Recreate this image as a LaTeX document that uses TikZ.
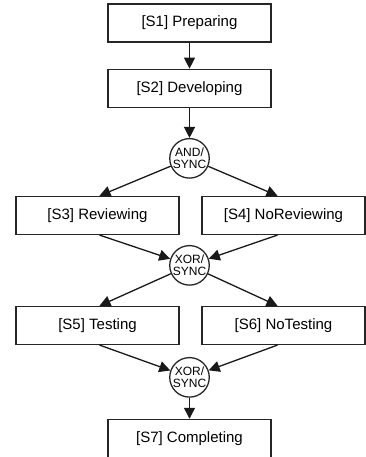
\documentclass[tikz,border=0pt]{standalone}
\usepackage{fontspec}
\setmainfont{Liberation Sans}
\usetikzlibrary{arrows.meta, positioning}

\begin{document}
\begin{tikzpicture}[
  x=1pt, y=1pt,
  state/.style={rectangle, draw=black!85, line width=1.3pt, minimum height=38pt,
    minimum width=163pt, align=center, font=\fontsize{15}{17}\selectfont},
  sync/.style={circle, draw=black!85, line width=1.3pt, minimum size=37pt,
    inner sep=0pt, align=center, font=\fontsize{12}{12.5}\selectfont},
  flow/.style={-{Triangle[length=11pt, width=11pt]}, line width=1.3pt, black!90},
  node distance=26pt
]
\useasboundingbox (0,0) rectangle (366,-457);

% States and gateways
\node[state] (prep) at (189.5,-23) {[S1] Preparing};
\node[state, below=of prep] (dev) {[S2] Developing};
\node[sync, below=30pt of dev] (andsync) {AND/\\SYNC};
\node[state, below=17pt of andsync, xshift=-92pt] (rev) {[S3] Reviewing};
\node[state, below=17pt of andsync, xshift=94pt] (norev) {[S4] NoReviewing};
\node[sync, below=137pt of dev] (xorA) {XOR/\\SYNC};
\node[state, below=20pt of xorA, xshift=-92pt] (test) {[S5] Testing};
\node[state, below=20pt of xorA, xshift=94pt] (notest) {[S6] NoTesting};
\node[sync, below=249pt of dev] (xorB) {XOR/\\SYNC};
\node[state, below=21pt of xorB] (compl) {[S7] Completing};

% Connectors
\draw[flow] (prep) -- (dev);
\draw[flow] (dev) -- (andsync);
\draw[flow] (andsync) -- ([xshift=2pt]rev.north);
\draw[flow] (andsync) -- ([xshift=-6pt]norev.north);
\draw[flow] ([xshift=2pt]rev.south) -- (xorA);
\draw[flow] ([xshift=-6pt]norev.south) -- (xorA);
\draw[flow] (xorA) -- ([xshift=2pt]test.north);
\draw[flow] (xorA) -- ([xshift=-6pt]notest.north);
\draw[flow] ([xshift=2pt]test.south) -- (xorB);
\draw[flow] ([xshift=-6pt]notest.south) -- (xorB);
\draw[flow] (xorB) -- (compl);
\end{tikzpicture}
\end{document}
